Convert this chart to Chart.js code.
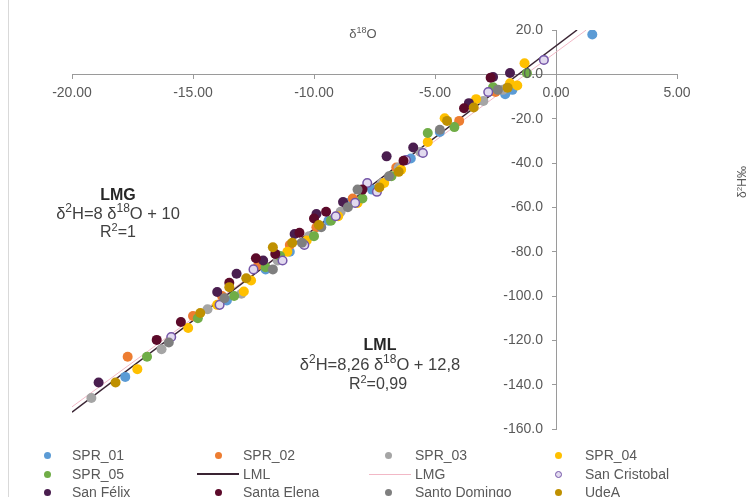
<!DOCTYPE html>
<html>
<head>
<meta charset="utf-8">
<script src="https://cdn.jsdelivr.net/npm/chart.js@4.4.0/dist/chart.umd.min.js"></script>
<style>
html, body { margin: 0; padding: 0; background: #fff; }
#wrap { position: relative; width: 753px; height: 497px; overflow: hidden; font-family: "Liberation Sans", Arial, sans-serif; }
#chart { position: absolute; left: 0; top: 0; }
.lg { position: absolute; font-size: 14px; line-height: 16px; color: #595959; white-space: nowrap; }
.mk { position: absolute; box-sizing: border-box; }
</style>
</head>
<body>
<div id="wrap">
  <canvas id="chart" width="753" height="497"></canvas>
  <div id="legend"></div>
</div>
<script>
// ticks
const X_TICK_LABELS = ['-20.00', '-15.00', '-10.00', '-5.00', '0.00', '5.00'];
const Y_TICK_LABELS = ['-160.0', '-140.0', '-120.0', '-100.0', '-80.0', '-60.0', '-40.0', '-20.0', '0.0', '20.0'];

// d18O (x) / d2H (y) por estacion
const spr01X = [-17.8, -13.6, -12.0, -11.0, -9.4, -8.6, -7.6, -6.0, -4.8, -2.1, -1.8, 1.5];
const spr01Y = [-136.5, -102, -88, -80, -66, -58, -52, -38, -26, -9, -7, 18];
const spr02X = [-17.7, -15.0, -13.8, -12.3, -11.0, -9.9, -8.4, -6.6, -4.0, -2.5];
const spr02Y = [-127.4, -109, -100, -86, -77, -69, -56, -42, -21, -8];
const spr03X = [-19.2, -16.3, -14.4, -13.0, -11.5, -10.2, -8.9, -7.2, -6.5, -5.6, -3.0, -2.2];
const spr03Y = [-146, -124, -106, -99, -84, -73, -62, -49, -42, -35, -12, -7];
const spr04X = [-17.3, -15.2, -14.0, -12.9, -12.6, -11.1, -10.3, -9.0, -8.2, -7.1, -6.4, -5.3, -4.6, -3.3, -1.9, -1.6, -1.3];
const spr04Y = [-133, -114.4, -104, -98, -93, -80, -75, -64, -58, -49, -43, -30.5, -19.8, -11.2, -4, -5, 5];
const spr05X = [-16.9, -14.8, -13.3, -12.0, -11.4, -10.0, -9.3, -8.0, -6.8, -5.3, -4.2, -2.6, -1.2];
const spr05Y = [-127.4, -110, -100, -87, -82, -73, -66, -56, -46, -26.5, -23.8, -5.8, 0.5];
const sanCristobalX = [-15.9, -13.9, -12.5, -11.3, -10.4, -9.1, -8.3, -7.8, -7.4, -6.2, -5.5, -2.8, -0.5];
const sanCristobalY = [-118.5, -104, -88, -84, -77, -64, -58, -49, -53, -38.7, -35.5, -8, 6.5];
const sanFelixX = [-18.9, -14.0, -13.2, -12.1, -10.8, -9.9, -8.8, -7.0, -5.9, -3.6, -2.6, -1.9];
const sanFelixY = [-139, -98.2, -90, -84, -72, -63, -57.6, -37, -33, -13, -1.2, 0.6];
const santaElenaX = [-16.5, -15.5, -13.5, -12.4, -11.6, -10.6, -10.0, -9.5, -8.0, -6.3, -3.8, -2.7];
const santaElenaY = [-119.8, -111.7, -94, -83, -81, -71.5, -65, -62, -52, -39, -15.3, -1.5];
const santoDomingoX = [-16.0, -13.7, -11.7, -10.5, -9.7, -8.6, -8.2, -6.9, -4.8, -2.4];
const santoDomingoY = [-121, -101, -88, -76, -69, -60, -52, -46, -25, -7];
const udeaX = [-18.2, -14.7, -13.5, -12.8, -11.7, -10.9, -9.8, -7.3, -6.5, -4.5, -3.4, -2.0];
const udeaY = [-139, -107.7, -96, -92, -78, -76, -68, -51, -44, -21, -15, -6];

// rectas (extremos)
const lmlX = [-20, 0.87];
const lmlY = [-152.4, 20];
const lmgX = [-20, 1.25];
const lmgY = [-150, 20];

function toPoints(xs, ys) {
    return xs.map((x, i) => ({ x: x, y: ys[i] }));
}

const series = [
    { label: 'SPR_01', x: spr01X, y: spr01Y, color: '#5B9BD5' },
    { label: 'SPR_02', x: spr02X, y: spr02Y, color: '#ED7D31' },
    { label: 'SPR_03', x: spr03X, y: spr03Y, color: '#A5A5A5' },
    { label: 'SPR_04', x: spr04X, y: spr04Y, color: '#FFC000' },
    { label: 'SPR_05', x: spr05X, y: spr05Y, color: '#70AD47' },
    { label: 'LML', x: lmlX, y: lmlY, color: '#3a2433', line: true, width: 1.5 },
    { label: 'LMG', x: lmgX, y: lmgY, color: '#f2b8c6', line: true, width: 1 },
    { label: 'San Cristobal', x: sanCristobalX, y: sanCristobalY, color: '#7456a8', fill: '#e2daef', hollow: true },
    { label: 'San Félix', x: sanFelixX, y: sanFelixY, color: '#4a1e4f' },
    { label: 'Santa Elena', x: santaElenaX, y: santaElenaY, color: '#5c0a2a' },
    { label: 'Santo Domingo', x: santoDomingoX, y: santoDomingoY, color: '#7F7F7F' },
    { label: 'UdeA', x: udeaX, y: udeaY, color: '#BF9000' },
];

const datasets = series.map((s, i) => {
    if (s.line) {
        return {
            label: s.label,
            data: toPoints(s.x, s.y),
            showLine: true,
            borderColor: s.color,
            borderWidth: s.width,
            pointRadius: 0,
            order: 100 + i,
        };
    }
    return {
        label: s.label,
        data: toPoints(s.x, s.y),
        backgroundColor: s.hollow ? s.fill : s.color,
        borderColor: s.color,
        borderWidth: s.hollow ? 1.5 : 0,
        pointRadius: s.hollow ? 4.3 : 5,
        order: series.length - i,
    };
});

const FONT = '"Liberation Sans", Arial, sans-serif';

function drawRich(ctx, parts, cx, y, size, color, bold) {
    const fontFor = (p) => (bold ? 'bold ' : '') + (p.sup ? Math.round(size * 0.7) : size) + 'px ' + FONT;
    let w = 0;
    parts.forEach(p => { ctx.font = fontFor(p); w += ctx.measureText(p.t).width; });
    let x = cx - w / 2;
    ctx.fillStyle = color;
    ctx.textAlign = 'left';
    ctx.textBaseline = 'middle';
    parts.forEach(p => {
        ctx.font = fontFor(p);
        ctx.fillText(p.t, x, p.sup ? y - size * 0.3 : y);
        x += ctx.measureText(p.t).width;
    });
}

const extras = {
    id: 'extras',
    afterDraw(chart) {
        const ctx = chart.ctx;
        ctx.save();
        // borde izquierdo
        ctx.strokeStyle = '#d9d9d9';
        ctx.lineWidth = 1;
        ctx.beginPath();
        ctx.moveTo(8.5, 0);
        ctx.lineTo(8.5, 497);
        ctx.stroke();

        // etiquetas eje Y, a la izquierda del eje en x=0
        const ys = chart.scales.y;
        const axisX = chart.scales.x.getPixelForValue(0);
        ctx.font = '14px ' + FONT;
        ctx.fillStyle = '#595959';
        ctx.textAlign = 'right';
        ctx.textBaseline = 'middle';
        ys.ticks.forEach((t, i) => {
            ctx.fillText(Y_TICK_LABELS[i], axisX - 13, ys.getPixelForValue(t.value));
        });

        // titulos de ejes
        drawRich(ctx, [{ t: 'δ' }, { t: '18', sup: true }, { t: 'O' }], 363, 34, 13, '#595959');
        ctx.translate(743, 182);
        ctx.rotate(-Math.PI / 2);
        drawRich(ctx, [{ t: 'δ' }, { t: '2', sup: true }, { t: 'H‰' }], 0, 0, 12, '#595959');
        ctx.setTransform(1, 0, 0, 1, 0, 0);

        // LMG
        drawRich(ctx, [{ t: 'LMG' }], 118, 196, 16, '#262626', true);
        drawRich(ctx, [{ t: 'δ' }, { t: '2', sup: true }, { t: 'H=8 δ' }, { t: '18', sup: true }, { t: 'O + 10' }], 118, 214, 16.5, '#404040');
        drawRich(ctx, [{ t: 'R' }, { t: '2', sup: true }, { t: '=1' }], 118, 233, 16, '#404040');

        // LML
        drawRich(ctx, [{ t: 'LML' }], 380, 346, 16, '#262626', true);
        drawRich(ctx, [{ t: 'δ' }, { t: '2', sup: true }, { t: 'H=8,26 δ' }, { t: '18', sup: true }, { t: 'O + 12,8' }], 380, 365, 16.5, '#404040');
        drawRich(ctx, [{ t: 'R' }, { t: '2', sup: true }, { t: '=0,99' }], 378, 385, 16, '#404040');
        ctx.restore();
    }
};

const tickFont = { family: FONT, size: 14 };

new Chart(document.getElementById('chart').getContext('2d'), {
    type: 'scatter',
    data: { datasets: datasets },
    options: {
        responsive: false,
        animation: false,
        layout: { padding: { left: 72, right: 76, top: 30, bottom: 68 } },
        plugins: {
            legend: { display: false },
            tooltip: { enabled: false },
        },
        scales: {
            x: {
                type: 'linear',
                min: -20,
                max: 5,
                position: { y: 0 },
                afterFit: (scale) => { scale.height = 0; },
                border: { color: '#9a9a9a', width: 1 },
                grid: { drawOnChartArea: false, drawTicks: true, tickLength: 4, color: '#9a9a9a' },
                ticks: {
                    stepSize: 5,
                    autoSkip: false,
                    maxRotation: 0,
                    padding: 6,
                    color: '#595959',
                    font: tickFont,
                    callback: (v, i) => X_TICK_LABELS[i],
                },
            },
            y: {
                type: 'linear',
                min: -160,
                max: 20,
                position: { x: 0 },
                afterFit: (scale) => { scale.width = 0; },
                border: { color: '#9a9a9a', width: 1 },
                grid: { drawOnChartArea: false, drawTicks: true, tickLength: 4, color: '#9a9a9a' },
                ticks: {
                    stepSize: 20,
                    autoSkip: false,
                    display: false,
                },
            },
        },
    },
    plugins: [extras],
});

// leyenda en 4 columnas
const legendOrder = ['SPR_01', 'SPR_02', 'SPR_03', 'SPR_04', 'SPR_05', 'LML', 'LMG', 'San Cristobal', 'San Félix', 'Santa Elena', 'Santo Domingo', 'UdeA'];
const colText = [72, 243, 415, 585];
const colMark = [47, 218, 388, 558];
const rowMid = [455, 474, 492];
const legend = document.getElementById('legend');
legendOrder.forEach((name, k) => {
    const s = series.find(d => d.label === name);
    const col = k % 4, row = Math.floor(k / 4);
    const mk = document.createElement('div');
    mk.className = 'mk';
    if (s.line) {
        mk.style.left = (colText[col] - 46) + 'px';
        mk.style.width = '42px';
        mk.style.height = s.width + 'px';
        mk.style.top = (rowMid[row] - s.width / 2) + 'px';
        mk.style.background = s.color;
    } else {
        const d = 7;
        mk.style.left = (colMark[col] - d / 2) + 'px';
        mk.style.top = (rowMid[row] - d / 2) + 'px';
        mk.style.width = d + 'px';
        mk.style.height = d + 'px';
        mk.style.borderRadius = '50%';
        mk.style.background = s.hollow ? s.fill : s.color;
        if (s.hollow) mk.style.border = '1.5px solid ' + s.color;
    }
    legend.appendChild(mk);
    const tx = document.createElement('div');
    tx.className = 'lg';
    tx.textContent = name;
    tx.style.left = colText[col] + 'px';
    tx.style.top = (rowMid[row] - 8) + 'px';
    legend.appendChild(tx);
});
</script>
</body>
</html>
